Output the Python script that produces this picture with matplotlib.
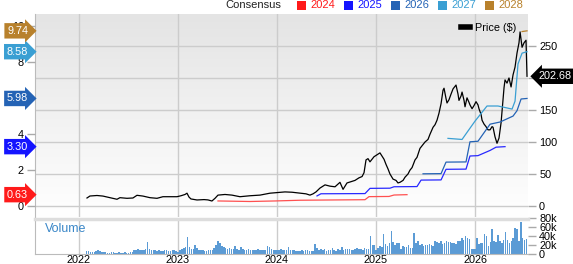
"""
Price vs. consensus EPS chart with weekly volume panel.
"""

import matplotlib
matplotlib.use("Agg")
import matplotlib.pyplot as plt
import matplotlib.transforms as mtransforms
from matplotlib.lines import Line2D
from matplotlib.patches import Rectangle
import numpy as np

plt.rcParams["font.family"] = ["Liberation Sans", "DejaVu Sans"]

# ---- data ----
# price: x in fractional years, y in $
price_years = [2022.081, 2022.111, 2022.182, 2022.242, 2022.313, 2022.384, 2022.414,
               2022.485, 2022.545, 2022.586, 2022.646, 2022.717, 2022.788, 2022.848,
               2022.919, 2022.990, 2023.030, 2023.071, 2023.091, 2023.111, 2023.131,
               2023.192, 2023.263, 2023.303, 2023.343, 2023.374, 2023.404, 2023.475,
               2023.545, 2023.626, 2023.727, 2023.828, 2023.929, 2024.000, 2024.081,
               2024.152, 2024.232, 2024.293, 2024.333, 2024.364, 2024.394, 2024.434,
               2024.485, 2024.535, 2024.586, 2024.636, 2024.667, 2024.707, 2024.747,
               2024.788, 2024.828, 2024.859, 2024.879, 2024.899, 2024.919, 2024.939,
               2024.980, 2025.010, 2025.040, 2025.061, 2025.081, 2025.101, 2025.121,
               2025.141, 2025.172, 2025.202, 2025.222, 2025.242, 2025.273, 2025.293,
               2025.323, 2025.343, 2025.364, 2025.394, 2025.414, 2025.444, 2025.475,
               2025.495, 2025.525, 2025.545, 2025.576, 2025.596, 2025.616, 2025.636,
               2025.657, 2025.677, 2025.687, 2025.707, 2025.717, 2025.737, 2025.758,
               2025.778, 2025.808, 2025.828, 2025.838, 2025.859, 2025.869, 2025.889,
               2025.899, 2025.919, 2025.939, 2025.949, 2025.970, 2025.990, 2026.010,
               2026.030, 2026.040, 2026.061, 2026.071, 2026.091, 2026.111, 2026.131,
               2026.152, 2026.172, 2026.182, 2026.202, 2026.222, 2026.242, 2026.263,
               2026.283, 2026.293, 2026.303, 2026.323, 2026.343, 2026.364, 2026.384,
               2026.404, 2026.424, 2026.444, 2026.455, 2026.465, 2026.475, 2026.495,
               2026.515, 2026.525]
price_values = [12.5, 15.6, 16.4, 15.5, 13.0, 10.5, 13.0,
                12.0, 12.5, 16.7, 15.5, 13.0, 12.0, 14.5,
                14.5, 14.5, 16.0, 18.0, 20.0, 14.0, 11.0,
                9.4, 10.0, 9.5, 7.8, 12.0, 17.0, 18.0,
                17.0, 14.5, 16.0, 17.0, 20.0, 21.0, 22.0,
                21.5, 20.0, 19.0, 17.0, 19.0, 22.0, 28.0,
                33.0, 31.0, 30.0, 37.0, 26.0, 36.0, 38.0,
                40.0, 44.0, 46.0, 52.0, 72.0, 74.0, 69.0,
                77.0, 80.0, 83.0, 78.0, 73.0, 65.0, 58.0,
                50.0, 42.0, 40.0, 36.0, 37.0, 40.0, 45.0,
                50.0, 56.0, 60.0, 72.0, 76.0, 90.0, 96.0,
                100.0, 104.0, 112.0, 123.0, 127.0, 134.0, 145.0,
                160.0, 181.0, 184.0, 168.0, 161.0, 166.0, 175.0,
                183.0, 189.0, 175.0, 165.0, 172.0, 178.0, 165.0,
                155.0, 169.0, 162.0, 158.0, 152.0, 157.0, 163.0,
                158.0, 152.0, 143.0, 134.0, 128.0, 124.0, 119.0,
                119.0, 124.0, 123.0, 108.0, 98.0, 106.0, 130.0,
                166.0, 185.0, 197.0, 192.0, 200.0, 186.0, 205.0,
                217.0, 239.0, 255.0, 272.0, 260.0, 248.0, 255.0,
                259.0, 202.68]

# consensus EPS estimates (left axis)
eps_2024_years = [2023.404, 2023.727, 2023.980, 2024.232, 2024.889, 2024.929,
                  2025.131, 2025.182, 2025.313]
eps_2024 = [0.28, 0.25, 0.28, 0.32, 0.35, 0.52, 0.53, 0.61, 0.63]

eps_2025_years = [2024.404, 2024.444, 2024.889, 2024.939, 2025.141, 2025.182,
                  2025.414, 2025.455, 2025.657, 2025.707, 2025.909, 2025.949,
                  2026.030, 2026.152, 2026.212, 2026.303]
eps_2025 = [0.56, 0.68, 0.69, 0.98, 0.99, 1.07, 1.08, 1.44, 1.45, 2.04, 2.05,
            2.78, 2.80, 3.09, 3.27, 3.30]

eps_2026_years = [2025.475, 2025.657, 2025.707, 2025.909, 2025.949, 2026.030,
                  2026.152, 2026.253, 2026.384, 2026.424, 2026.465, 2026.525]
eps_2026 = [1.79, 1.80, 2.44, 2.45, 3.57, 3.60, 4.55, 4.67, 5.00, 5.30, 5.95, 5.98]

eps_2027_years = [2025.727, 2025.869, 2025.929, 2026.000, 2026.121, 2026.232,
                  2026.374, 2026.404, 2026.434, 2026.475, 2026.525]
eps_2027 = [3.76, 3.70, 4.17, 4.72, 5.56, 5.56, 5.39, 5.83, 7.90, 8.50, 8.58]

eps_2028_years = [2026.475, 2026.525]
eps_2028 = [9.70, 9.74]

latest_eps = [0.63, 3.30, 5.98, 8.58, 9.74]
latest_price = 202.68

# weekly volume (thousands)
volume_start = 2022.07
volume = [
    # 2022
    7, 6, 5, 5, 4, 6, 8, 7, 5, 4, 4, 3, 3, 4, 4, 3, 3, 4, 3, 3,
    4, 3, 3, 4, 4, 8, 10, 11, 9, 10, 10, 12, 27, 11, 9, 8, 9, 7, 8, 6,
    7, 9, 8, 6, 7, 9, 8, 6,
    # 2023
    5, 8, 12, 14, 16, 38, 15, 12, 11, 20, 13, 10, 9, 8, 6, 7, 10, 9, 8, 14,
    20, 30, 24, 18, 16, 14, 12, 13, 12, 11, 18, 12, 10, 15, 11, 9, 10, 11, 8, 9,
    10, 9, 11, 8, 9, 10, 9, 18, 16, 12, 10, 9,
    # 2024
    9, 10, 11, 8, 9, 10, 15, 10, 9, 8, 7, 6, 7, 8, 7, 9, 8, 7, 6, 7,
    22, 13, 10, 12, 8, 11, 7, 8, 9, 13, 9, 7, 11, 10, 15, 10, 11, 12, 11, 10,
    9, 12, 13, 11, 12, 10, 13, 12, 11, 40, 21, 20,
    # 2025
    10, 13, 18, 15, 45, 22, 18, 25, 52, 26, 20, 24, 25, 12, 18, 15, 16, 20, 14, 13,
    47, 25, 28, 20, 22, 18, 21, 19, 23, 20, 18, 30, 27, 25, 28, 22, 24, 30, 27, 26,
    24, 25, 22, 28, 30, 35, 32, 40, 35, 33, 12, 11,
    # 2026
    12, 35, 23, 24, 25, 45, 40, 18, 26, 55, 30, 27, 43, 28, 25, 31, 50, 32, 24, 28,
    36, 57, 56, 30, 72, 35, 31, 33,
]

years = [2022, 2023, 2024, 2025, 2026]
series_names = ["2024", "2025", "2026", "2027", "2028"]
series_colors = ["#ff1a1a", "#1414ff", "#2463b5", "#3a9fd3", "#b8812c"]
line_colors = ["#ff5050", "#2828ff", "#2463b5", "#3a9fd3", "#b8812c"]

# ---- figure ----
W, H = 573, 264
fig = plt.figure(figsize=(W / 100, H / 100), dpi=100)


def px_box(left, top, right, bottom):
    return [left / W, 1 - bottom / H, (right - left) / W, (bottom - top) / H]


xlim = (2021.556, 2026.535)
ax = fig.add_axes(px_box(35, 14, 528, 217))
ax_eps = ax.twinx()

ax.set_xlim(*xlim)
ax.set_ylim(-17.2, 300)

# gradient background
grad = np.linspace(0, 1, 256).reshape(-1, 1)
ax.imshow(grad, extent=[xlim[0], xlim[1], -17.2, 300], aspect="auto",
          cmap=matplotlib.colors.LinearSegmentedColormap.from_list(
              "bg", ["#ffffff", "#e4e4e4"]),
          origin="lower", zorder=0)

ax.set_yticks([0, 50, 100, 150, 200, 250])
ax.set_xticks(years)
ax.grid(True, color="#cccccc", linewidth=1.0)
ax.set_axisbelow(True)
ax.tick_params(axis="x", length=0, labelbottom=False)
ax.yaxis.tick_right()
ax.tick_params(axis="y", right=True, left=False, labelright=True,
               labelleft=False, length=6, width=1, color="#aaaaaa",
               labelsize=7.8, pad=2)
ax.set_yticklabels(["0", "50", "100", "150", "", "250"])
for s in ax.spines.values():
    s.set_visible(False)
ax.spines["left"].set_visible(True)
ax.spines["left"].set_color("#bbbbbb")

ax.plot(price_years, price_values, color="black", linewidth=0.9, zorder=5)

ax_eps.set_xlim(*xlim)
ax_eps.set_ylim(-17.2 / 28.1, 300 / 28.1)
ax_eps.yaxis.tick_left()
ax_eps.set_yticks([0, 2, 4, 6, 8, 10])
ax_eps.tick_params(axis="y", left=True, right=False, labelleft=True,
                   labelright=False, length=6, width=1, color="#aaaaaa",
                   labelsize=7.8, pad=2)
for s in ax_eps.spines.values():
    s.set_visible(False)
ax_eps.patch.set_visible(False)

eps_sets = [(eps_2024_years, eps_2024), (eps_2025_years, eps_2025),
            (eps_2026_years, eps_2026), (eps_2027_years, eps_2027),
            (eps_2028_years, eps_2028)]
for (xs, ys), c in zip(eps_sets, line_colors):
    ax_eps.plot(xs, ys, color=c, linewidth=0.9, zorder=4)

# tags on the left for latest estimates
left_tr = mtransforms.blended_transform_factory(ax_eps.transAxes, ax_eps.transData)
for v, c in zip(latest_eps, series_colors):
    ax_eps.text(-0.014, v, f"{v:.2f}", transform=left_tr, ha="right", va="center",
                color="white", fontsize=7.8, clip_on=False, zorder=10,
                bbox=dict(boxstyle="rarrow,pad=0.25", fc=c, ec="none"))

# price tag on the right
right_tr = mtransforms.blended_transform_factory(ax.transAxes, ax.transData)
ax.text(1.022, latest_price, f"{latest_price:.2f}", transform=right_tr,
        ha="left", va="center", color="white", fontsize=7.8, clip_on=False,
        zorder=10, bbox=dict(boxstyle="larrow,pad=0.25", fc="black", ec="none"))

ax.legend([Line2D([0], [0], color="black", linewidth=4)], ["Price ($)"],
          loc="upper right", bbox_to_anchor=(0.99, 0.99), frameon=False,
          fontsize=7.8, handlelength=0.8, handletextpad=0.5, borderaxespad=0.2)

# ---- volume panel ----
axv = fig.add_axes(px_box(35, 218, 528, 254))
vol_x = volume_start + np.arange(len(volume)) / 52.0
axv.bar(vol_x, volume, width=0.8 / 52, color="#5b9bd5", edgecolor="none",
        align="edge")
axv.set_xlim(*xlim)
axv.set_ylim(0, 80)
axv.set_xticks(years)
axv.set_xticklabels([str(y) for y in years])
axv.grid(True, axis="x", color="#cccccc", linewidth=1.0)
axv.set_axisbelow(True)
axv.tick_params(axis="x", length=0, labelsize=7.8, pad=0.5)
axv.yaxis.tick_right()
axv.set_yticks([0, 20, 40, 60, 80])
axv.set_yticklabels(["0", "20k", "40k", "60k", "80k"])
axv.tick_params(axis="y", length=6, width=1, color="#aaaaaa", labelsize=7.8, pad=2)
for s in axv.spines.values():
    s.set_visible(False)
axv.spines["left"].set_visible(True)
axv.spines["left"].set_color("#bbbbbb")
axv.spines["bottom"].set_visible(True)
axv.spines["bottom"].set_color("#bbbbbb")
axv.text(0.02, 0.7, "Volume", transform=axv.transAxes, color="#3a87c8",
         fontsize=9, ha="left", va="center")

# separator between panels
fig.add_artist(Line2D([35 / W, 528 / W], [1 - 219 / H, 1 - 219 / H],
                      color="#dddddd", linewidth=2.5))

# ---- top legend ----
ty = 1 - 5 / H
fig.text(225 / W, ty, "Consensus", fontsize=8, color="#222222", va="center")
legend_x = [297, 344, 391, 438, 485]
for lx, name, c in zip(legend_x, series_names, series_colors):
    fig.add_artist(Rectangle((lx / W, 1 - 9.5 / H), 8.5 / W, 8.5 / H,
                             facecolor=c, edgecolor="none"))
    fig.text((lx + 13) / W, ty, name, fontsize=8, color=c, va="center")

fig.savefig("out.png", dpi=100)
